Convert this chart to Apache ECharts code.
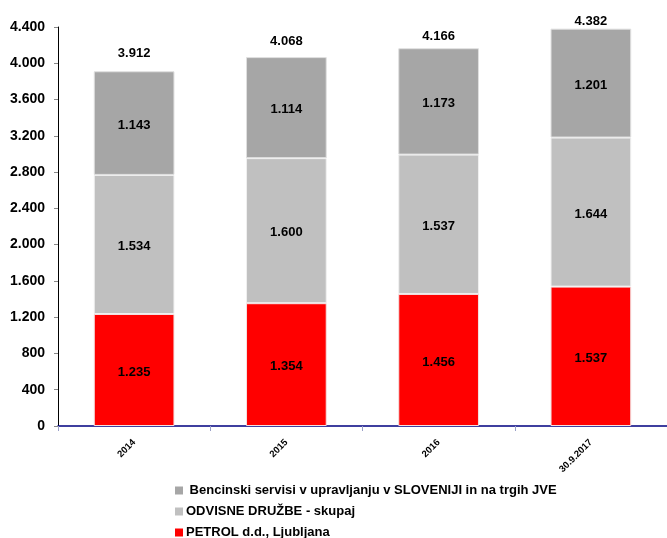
<!DOCTYPE html>
<html><head><meta charset="utf-8">
<script src="https://cdn.jsdelivr.net/npm/echarts@6/dist/echarts.min.js"></script>
<style>html,body{margin:0;padding:0;background:#fff}#c{width:667px;height:538px}</style>
</head><body><div id="c"></div>
<script>
const categories = ['2014', '2015', '2016', '30.9.2017'];
const petrol = [1235, 1354, 1456, 1537];
const odvisne = [1534, 1600, 1537, 1644];
const bencinski = [1143, 1114, 1173, 1201];
const totals = [3912, 4068, 4166, 4382];
const yTicks = [0, 400, 800, 1200, 1600, 2000, 2400, 2800, 3200, 3600, 4000, 4400];
const names = [' Bencinski servisi v upravljanju v SLOVENIJI in na trgih JVE', 'ODVISNE DRUŽBE - skupaj', 'PETROL d.d., Ljubljana'];
// label gaps above each stack (style only)
const totalLabelGap = [11, 9, 5, 1];

function fmt(v){ return String(v).replace(/\B(?=(\d{3})+(?!\d))/g, '.'); }
const font = 'Liberation Sans, Arial, sans-serif';
const lbl = {show:true, position:'inside', offset:[0,2], color:'#000', fontWeight:'bold', fontSize:13, fontFamily:font, formatter:p=>fmt(p.value)};

const chart = echarts.init(document.getElementById('c'));
chart.setOption({
  animation:false,
  grid:{left:58, right:-9, top:27, bottom:112, containLabel:false},
  xAxis:{type:'category', data:categories,
    axisLine:{lineStyle:{color:'#000080', width:1.5}},
    axisTick:{show:true, alignWithLabel:false, lineStyle:{color:'#9aa0c8'}},
    axisLabel:{rotate:45, fontSize:9.5, fontWeight:'bold', color:'#000', fontFamily:font, margin:15}},
  yAxis:{type:'value', min:yTicks[0], max:yTicks[yTicks.length-1], interval:400,
    axisLine:{show:true, lineStyle:{color:'#000', width:1}},
    axisTick:{show:true, inside:false, length:4, lineStyle:{color:'#888'}},
    splitLine:{show:false},
    axisLabel:{fontSize:14, fontWeight:'bold', color:'#000', fontFamily:font, margin:13, formatter:v=>fmt(v)}},
  legend:{orient:'vertical', left:175, top:483, height:100, padding:0, itemGap:6, itemWidth:8, itemHeight:8, icon:'rect',
    data:names, itemStyle:{borderWidth:0},
    textStyle:{fontSize:13, lineHeight:15, fontWeight:'bold', color:'#000', fontFamily:font, padding:[0,0,0,-2]}},
  series:[
    {name:names[2], type:'bar', stack:'s', data:petrol, barWidth:'53%', itemStyle:{color:'#ff0000', borderColor:'#f4e0e0', borderWidth:1}, label:lbl},
    {name:names[1], type:'bar', stack:'s', data:odvisne, itemStyle:{color:'#c0c0c0', borderColor:'#f0f0f0', borderWidth:1}, label:lbl},
    {name:names[0], type:'bar', stack:'s', data:bencinski, itemStyle:{color:'#a6a6a6', borderColor:'#e0e0e0', borderWidth:1}, label:lbl},
    {name:'total', type:'scatter', symbolSize:0, silent:true, itemStyle:{opacity:1},
      data:totals.map((v,i)=>({value:v, label:{distance:totalLabelGap[i]}})),
      label:{show:true, position:'top', color:'#000', fontWeight:'bold', fontSize:13, fontFamily:font, formatter:p=>fmt(p.value)}}
  ]
});
</script></body></html>
